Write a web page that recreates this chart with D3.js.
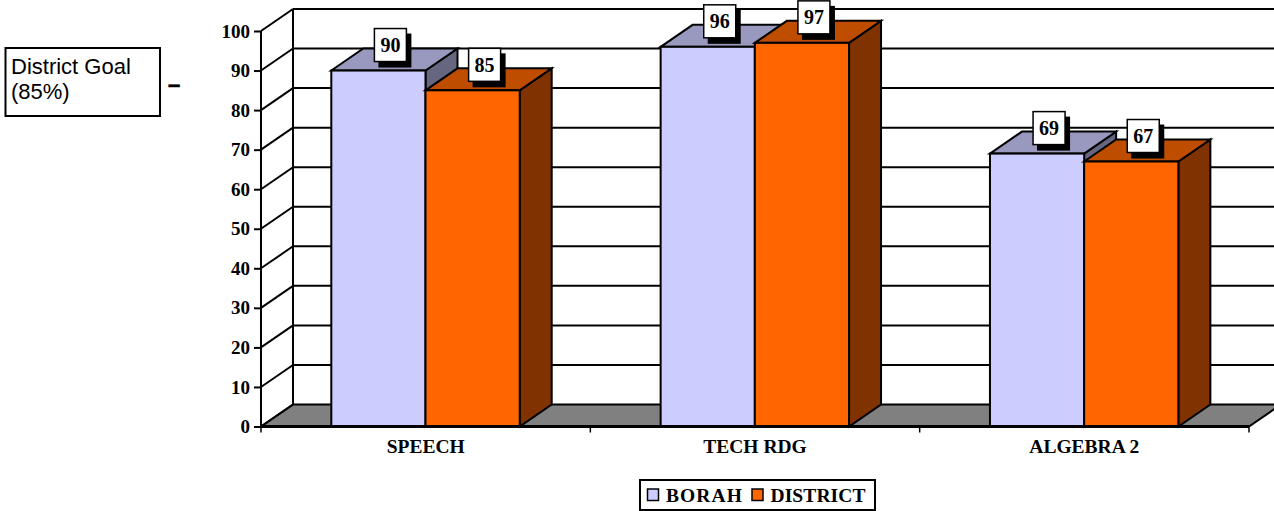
<!DOCTYPE html>
<html><head><meta charset="utf-8">
<script src="https://cdn.jsdelivr.net/npm/d3@7/dist/d3.min.js"></script>
<style>html,body{margin:0;padding:0;background:#fff;overflow:hidden}svg{display:block}</style>
</head><body><svg id="c" width="1274" height="511"></svg>
<script>
const categories = ["SPEECH", "TECH RDG", "ALGEBRA 2"];
const seriesNames = ["BORAH", "DISTRICT"];
const borah = [90, 96, 69];
const district = [85, 97, 67];
const yTicks = [0, 10, 20, 30, 40, 50, 60, 70, 80, 90, 100];
const goalLines = ["District Goal", "(85%)"];

const serif = "'Liberation Serif', serif", sans = "'Liberation Sans', sans-serif";
const svg = d3.select("#c");
const dx = 32, dy = -22;
const y = d3.scaleLinear().domain([0, 100]).range([426.5, 31]);
const x0 = d3.scaleBand().domain(categories).range([261, 1249]);
const x1 = d3.scaleBand().domain(seriesNames).range([70.3, 258.7]);
const colors = {
  BORAH: {front: "#CCCCFF", top: "#9999BF", side: "#666680"},
  DISTRICT: {front: "#FF6600", top: "#BF4D00", side: "#803300"}
};
const pts = a => a.map(p => p.join(",")).join(" ");
const lw = 2;

// floor
svg.append("polygon").attr("fill", "#808080").attr("stroke", "#000").attr("stroke-width", lw)
  .attr("points", pts([[261, y(0)], [261+dx, y(0)+dy], [1249+dx, y(0)+dy], [1249, y(0)]]));
// back wall grid
svg.append("g").selectAll("line").data(yTicks.filter(d => d > 0)).join("line")
  .attr("x1", 261+dx).attr("x2", 1274).attr("y1", d => y(d)+dy).attr("y2", d => y(d)+dy)
  .attr("stroke", "#000").attr("stroke-width", lw);
svg.append("line").attr("x1", 261+dx).attr("x2", 261+dx).attr("y1", y(0)+dy).attr("y2", y(100)+dy)
  .attr("stroke", "#000").attr("stroke-width", lw);
// side wall diagonals
svg.append("g").selectAll("line").data(yTicks).join("line")
  .attr("x1", 261).attr("x2", 261+dx).attr("y1", d => y(d)).attr("y2", d => y(d)+dy)
  .attr("stroke", "#000").attr("stroke-width", lw);
// y axis
const yAxis = svg.append("g").attr("transform", "translate(261,0)")
  .call(d3.axisLeft(y).tickValues(yTicks).tickSize(7).tickPadding(4));
yAxis.select(".domain").attr("stroke-width", lw).attr("d", `M0,${y(100)}V${y(0)}`);
yAxis.selectAll(".tick line").attr("stroke-width", lw);
yAxis.selectAll("text").attr("font-family", serif).attr("font-weight", "bold").attr("font-size", 19).attr("fill", "#000");
// x axis
const edges = [261].concat(categories.map(c => x0(c) + x0.bandwidth()));
svg.append("g").selectAll("line").data(edges).join("line")
  .attr("x1", d => d).attr("x2", d => d).attr("y1", y(0)).attr("y2", y(0)+6).attr("stroke", "#000").attr("stroke-width", 1.5);
svg.append("g").selectAll("text").data(categories).join("text")
  .attr("x", d => x0(d) + x0.bandwidth()/2).attr("y", 453).attr("text-anchor", "middle")
  .attr("font-family", serif).attr("font-weight", "bold").attr("font-size", 19.5).attr("fill", "#000")
  .text(d => d);

// bars
const rows = [];
categories.forEach((c, i) => {
  rows.push({c, s: "BORAH", v: borah[i]});
  rows.push({c, s: "DISTRICT", v: district[i]});
});
const bars = svg.append("g").selectAll("g").data(rows).join("g");
const bx = d => x0(d.c) + x1(d.s), bw = x1.bandwidth();
bars.append("polygon").attr("fill", d => colors[d.s].side).attr("stroke", "#000").attr("stroke-width", lw)
  .attr("points", d => pts([[bx(d)+bw, y(d.v)], [bx(d)+bw+dx, y(d.v)+dy], [bx(d)+bw+dx, y(0)+dy], [bx(d)+bw, y(0)]]));
bars.append("polygon").attr("fill", d => colors[d.s].top).attr("stroke", "#000").attr("stroke-width", lw)
  .attr("points", d => pts([[bx(d), y(d.v)], [bx(d)+dx, y(d.v)+dy], [bx(d)+bw+dx, y(d.v)+dy], [bx(d)+bw, y(d.v)]]));
bars.append("rect").attr("x", bx).attr("width", bw).attr("y", d => y(d.v)).attr("height", d => y(0)-y(d.v))
  .attr("fill", d => colors[d.s].front).attr("stroke", "#000").attr("stroke-width", lw);
svg.append("line").attr("x1", 261).attr("x2", 1249).attr("y1", y(0)).attr("y2", y(0)).attr("stroke", "#000").attr("stroke-width", 3);

// value labels
const lbl = svg.append("g").selectAll("g").data(rows).join("g")
  .attr("transform", d => `translate(${bx(d)+bw/2+12},${y(d.v)-25})`);
lbl.append("rect").attr("x", -12).attr("y", -12).attr("width", 33).attr("height", 34).attr("fill", "#000");
lbl.append("rect").attr("x", -16).attr("y", -17).attr("width", 32).attr("height", 33)
  .attr("fill", "#fff").attr("stroke", "#000").attr("stroke-width", 1.5);
lbl.append("text").attr("text-anchor", "middle").attr("y", 6.5)
  .attr("font-family", serif).attr("font-weight", "bold").attr("font-size", 20).attr("fill", "#000")
  .text(d => d.v);

// legend
svg.append("rect").attr("x", 640).attr("y", 480).attr("width", 235).attr("height", 30)
  .attr("fill", "#fff").attr("stroke", "#000").attr("stroke-width", 2);
const legX = {BORAH: 647.5, DISTRICT: 752};
const legSpacing = {BORAH: 1.1, DISTRICT: 0.1};
const leg = svg.append("g").selectAll("g").data(seriesNames).join("g");
leg.append("rect").attr("x", d => legX[d]).attr("y", 489).attr("width", 11).attr("height", 11.5)
  .attr("fill", d => colors[d].front).attr("stroke", "#000").attr("stroke-width", 1.5);
leg.append("text").attr("x", d => legX[d]+18.5).attr("y", 501.5)
  .attr("font-family", serif).attr("font-weight", "bold").attr("font-size", 19.5)
  .attr("letter-spacing", d => legSpacing[d]).attr("fill", "#000")
  .text(d => d);

// goal note
svg.append("rect").attr("x", 5.5).attr("y", 48).attr("width", 154.5).attr("height", 68)
  .attr("fill", "#fff").attr("stroke", "#000").attr("stroke-width", 2);
svg.append("g").selectAll("text").data(goalLines).join("text")
  .attr("x", 11).attr("y", (d, i) => 74 + i*24.5)
  .attr("font-family", sans).attr("font-size", 22).attr("fill", "#000").text(d => d);
svg.append("text").attr("x", 168).attr("y", 92).attr("font-family", sans).attr("font-size", 22)
  .attr("font-weight", "bold").attr("stroke", "#000").attr("stroke-width", 0.6).attr("fill", "#000").text("–");
</script></body></html>
